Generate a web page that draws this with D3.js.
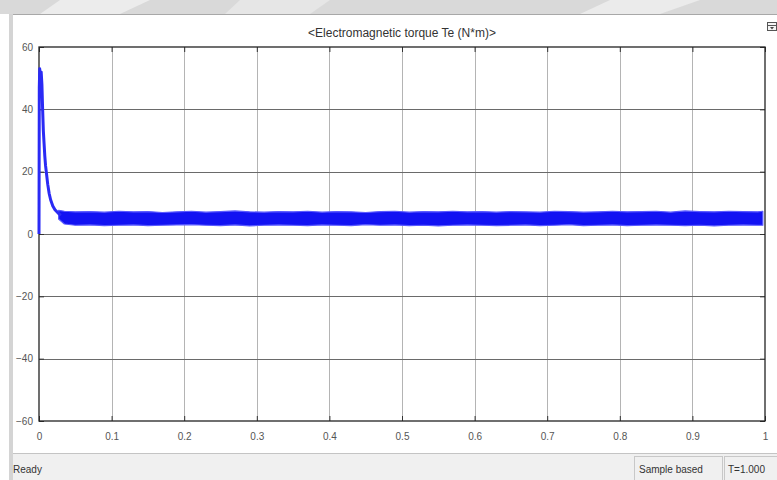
<!DOCTYPE html>
<html>
<head>
<meta charset="utf-8">
<script src="https://cdn.jsdelivr.net/npm/d3@7"></script>
<style>
  body { margin: 0; background: #fff; }
  svg { display: block; font-family: "Liberation Sans", Arial, sans-serif; }
</style>
</head>
<body>
<svg id="chart" width="777" height="480"></svg>
<script>
// tick values
var xTicks = [0, 0.1, 0.2, 0.3, 0.4, 0.5, 0.6, 0.7, 0.8, 0.9, 1];
var xTickLabels = ["0", "0.1", "0.2", "0.3", "0.4", "0.5", "0.6", "0.7", "0.8", "0.9", "1"];
var yTicks = [-60, -40, -20, 0, 20, 40, 60];

// start-up transient
var tStart = [0, 0.0004, 0.001, 0.002, 0.003, 0.004, 0.005, 0.006, 0.007, 0.008, 0.009, 0.010, 0.012, 0.014, 0.016, 0.019, 0.022, 0.026, 0.03];
var vStart = [0, 47, 53, 50, 52, 48, 40, 33, 29, 25, 22, 20, 16, 13, 11, 9, 7.8, 6.8, 6];

// steady state ripple band: upper and lower edge
var tBand = [0.027, 0.035, 0.05, 0.07, 0.09, 0.11, 0.13, 0.15, 0.17, 0.19, 0.21, 0.23, 0.25, 0.27, 0.29, 0.31, 0.33, 0.35, 0.37, 0.39, 0.41, 0.43, 0.45, 0.47, 0.49, 0.51, 0.53, 0.55, 0.57, 0.59, 0.61, 0.63, 0.65, 0.67, 0.69, 0.71, 0.73, 0.75, 0.77, 0.79, 0.81, 0.83, 0.85, 0.87, 0.89, 0.91, 0.93, 0.95, 0.97, 0.99, 0.997];
var hiBand = [7.6, 7.3, 7.1, 7.2, 7.0, 7.3, 7.1, 7.2, 6.9, 7.1, 7.3, 7.0, 7.2, 7.4, 7.1, 7.0, 7.2, 7.1, 7.3, 7.0, 7.2, 7.1, 6.9, 7.2, 7.3, 7.0, 7.2, 7.1, 7.3, 7.1, 7.2, 7.0, 7.2, 7.1, 7.0, 7.3, 7.2, 7.0, 7.1, 7.3, 7.1, 7.2, 7.3, 7.0, 7.4, 7.2, 7.1, 7.3, 7.2, 7.1, 7.3];
var loBand = [4.8, 3.2, 2.8, 2.9, 2.7, 2.8, 2.9, 2.7, 2.8, 2.9, 3.0, 2.8, 2.7, 2.9, 2.6, 2.8, 2.9, 2.8, 2.7, 2.9, 2.8, 2.7, 3.0, 2.8, 2.9, 2.7, 2.8, 2.6, 2.8, 2.9, 2.8, 2.7, 2.8, 2.9, 2.7, 2.8, 3.0, 2.7, 2.8, 2.9, 2.7, 2.8, 2.9, 2.8, 2.7, 2.8, 2.6, 2.8, 2.9, 2.8, 2.8];

var svg = d3.select("#chart");
var W = 777, H = 480;
var plot = {left: 39, right: 765, top: 47, bottom: 421};

// window chrome
svg.append("rect").attr("x", 0).attr("y", 0).attr("width", W).attr("height", 14).attr("fill", "#d9d9d9");
svg.append("path").attr("d", "M60,0 L150,0 L120,14 L40,14 Z").attr("fill", "#ececec");
svg.append("path").attr("d", "M240,0 L330,0 L310,14 L225,14 Z").attr("fill", "#e6e6e6");
svg.append("path").attr("d", "M610,0 L700,0 L660,14 L580,14 Z").attr("fill", "#ebebeb");
svg.append("line").attr("x1", 12).attr("x2", W).attr("y1", 14.5).attr("y2", 14.5).attr("stroke", "#a8a8a8");
svg.append("rect").attr("x", 9).attr("y", 14).attr("width", 4).attr("height", H - 14).attr("fill", "#d4d4d4");
svg.append("rect").attr("x", 13).attr("y", 453).attr("width", W - 13).attr("height", H - 453).attr("fill", "#f0f0f0");
svg.append("line").attr("x1", 13).attr("x2", W).attr("y1", 453.5).attr("y2", 453.5).attr("stroke", "#c4c4c4");
svg.append("rect").attr("x", 634.5).attr("y", 456.5).attr("width", 88).attr("height", 24).attr("fill", "none").attr("stroke", "#c8c8c8");
svg.append("rect").attr("x", 724.5).attr("y", 456.5).attr("width", 53).attr("height", 24).attr("fill", "none").attr("stroke", "#c8c8c8");
svg.append("text").attr("x", 13).attr("y", 473).attr("font-size", 10).attr("fill", "#333").text("Ready");
svg.append("text").attr("x", 639).attr("y", 473).attr("font-size", 10).attr("fill", "#333").text("Sample based");
svg.append("text").attr("x", 728).attr("y", 473).attr("font-size", 10).attr("fill", "#333").text("T=1.000");

// little icon top right
var icon = svg.append("g").attr("transform", "translate(767,22)");
icon.append("rect").attr("x", 0.5).attr("y", 0.5).attr("width", 9).attr("height", 8).attr("fill", "#f4f4f4").attr("stroke", "#555");
icon.append("line").attr("x1", 0.5).attr("x2", 9.5).attr("y1", 3.5).attr("y2", 3.5).attr("stroke", "#555");
icon.append("path").attr("d", "M3,5 L7,5 L5,7.5 Z").attr("fill", "#444");

// title
svg.append("text").attr("x", 402).attr("y", 37).attr("text-anchor", "middle")
  .attr("font-size", 12).attr("fill", "#333").text("<Electromagnetic torque Te (N*m)>");

// scales
var x = d3.scaleLinear().domain([0, 1]).range([plot.left, plot.right]);
var y = d3.scaleLinear().domain([-60, 60]).range([plot.bottom, plot.top]);

// grid
svg.append("g").selectAll("line").data(xTicks.slice(1, -1)).enter().append("line")
  .attr("x1", d => Math.round(x(d)) + 0.5).attr("x2", d => Math.round(x(d)) + 0.5)
  .attr("y1", plot.top).attr("y2", plot.bottom).attr("stroke", "#b4b4b4");
svg.append("g").selectAll("line").data(yTicks.slice(1, -1)).enter().append("line")
  .attr("x1", plot.left).attr("x2", plot.right)
  .attr("y1", d => Math.round(y(d)) + 0.5).attr("y2", d => Math.round(y(d)) + 0.5)
  .attr("stroke", "#6a6a6a");

// axes (ticks inside, labels outside)
var xAxis = svg.append("g").attr("transform", "translate(0," + plot.bottom + ")")
  .call(d3.axisBottom(x).tickValues(xTicks).tickFormat((d, i) => xTickLabels[i]).tickSize(-5).tickPadding(12));
var xTop = svg.append("g").attr("transform", "translate(0," + plot.top + ")")
  .call(d3.axisTop(x).tickValues(xTicks).tickFormat("").tickSize(-5));
var yAxis = svg.append("g").attr("transform", "translate(" + plot.left + ",0)")
  .call(d3.axisLeft(y).tickValues(yTicks).tickSize(-5).tickPadding(6));
var yRight = svg.append("g").attr("transform", "translate(" + plot.right + ",0)")
  .call(d3.axisRight(y).tickValues(yTicks).tickFormat("").tickSize(-5));
[xAxis, xTop, yAxis, yRight].forEach(function(g) {
  g.select(".domain").remove();
  g.selectAll(".tick line").attr("stroke", "#333");
  g.selectAll("text").attr("fill", "#555").attr("font-size", 10)
    .attr("font-family", "'Liberation Sans', Arial, sans-serif");
});

// plot border
svg.append("rect").attr("x", plot.left).attr("y", plot.top)
  .attr("width", plot.right - plot.left).attr("height", plot.bottom - plot.top)
  .attr("fill", "none").attr("stroke", "#222").attr("stroke-width", 1.3);

// data
var band = tBand.map((t, i) => ({t: t, hi: hiBand[i], lo: loBand[i]}));
svg.append("path").datum(band)
  .attr("fill", "#1212f2").attr("stroke", "#5a5aff").attr("stroke-width", 1.2)
  .attr("stroke-linejoin", "round")
  .attr("d", d3.area().x(d => x(d.t)).y0(d => y(d.lo)).y1(d => y(d.hi)));

var start = tStart.map((t, i) => ({t: t, v: vStart[i]}));
svg.append("path").datum(start)
  .attr("fill", "none").attr("stroke", "#2a2af5").attr("stroke-width", 3)
  .attr("stroke-linejoin", "round")
  .attr("d", d3.line().x(d => x(d.t)).y(d => y(d.v)));
</script>
</body>
</html>
